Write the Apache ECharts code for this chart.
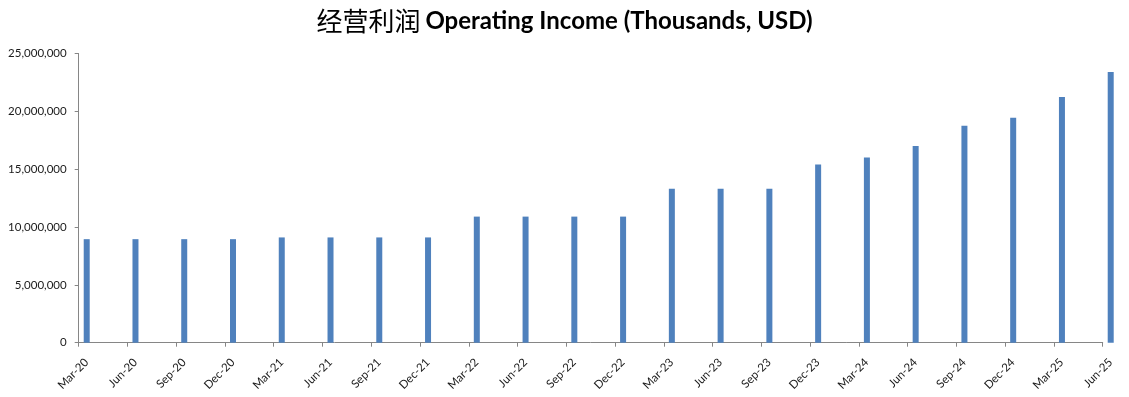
<!DOCTYPE html>
<html>
<head>
<meta charset="utf-8">
<script src="https://cdn.jsdelivr.net/npm/echarts@6/dist/echarts.min.js"></script>
<style>
html, body { margin: 0; padding: 0; background: #fff; }
#main { width: 1129px; height: 397px; }
</style>
</head>
<body>
<div id="main"></div>
<script>
var quarters = ['Mar-20', 'Jun-20', 'Sep-20', 'Dec-20', 'Mar-21', 'Jun-21', 'Sep-21', 'Dec-21',
    'Mar-22', 'Jun-22', 'Sep-22', 'Dec-22', 'Mar-23', 'Jun-23', 'Sep-23', 'Dec-23',
    'Mar-24', 'Jun-24', 'Sep-24', 'Dec-24', 'Mar-25', 'Jun-25'];
var operatingIncome = [8950000, 8950000, 8950000, 8950000, 9100000, 9100000, 9100000, 9100000,
    10900000, 10900000, 10900000, 10900000, 13300000, 13300000, 13300000, 15400000,
    16000000, 17000000, 18750000, 19450000, 21250000, 23400000];
var yTicks = [0, 5000000, 10000000, 15000000, 20000000, 25000000];

var LABEL_FONT = 'Lato, "Open Sans", sans-serif';

window.onload = function () {
    var chart = echarts.init(document.getElementById('main'));
    var option = {
        backgroundColor: '#fff',
        animation: false,
        title: {
            text: '{zh|经营利润} {en|Operating Income (Thousands, USD)}',
            left: 'center',
            top: 3,
            textStyle: {
                rich: {
                    zh: { fontFamily: '"Noto Sans CJK SC"', fontSize: 26, fontWeight: 'normal', color: '#000' },
                    en: { fontFamily: LABEL_FONT, fontSize: 24, fontWeight: 'bold', color: '#000' }
                }
            }
        },
        grid: { left: 78.7, right: 26.3, top: 53.5, bottom: 54.3 },
        xAxis: {
            type: 'category',
            data: quarters,
            boundaryGap: false,
            axisLine: { lineStyle: { color: '#868686', width: 1 } },
            axisTick: { show: true, length: 4, lineStyle: { color: '#868686' } },
            axisLabel: {
                rotate: 45,
                margin: 10,
                verticalAlign: 'top',
                padding: [5, 0, 0, 0],
                interval: 0,
                fontFamily: LABEL_FONT,
                fontSize: 11.5,
                color: '#1a1a1a'
            },
            splitLine: { show: false }
        },
        yAxis: {
            type: 'value',
            min: yTicks[0],
            max: yTicks[yTicks.length - 1],
            interval: yTicks[1] - yTicks[0],
            axisLine: { show: true, lineStyle: { color: '#868686', width: 1 } },
            axisTick: { show: true, length: 4, lineStyle: { color: '#868686' } },
            axisLabel: {
                margin: 12,
                fontFamily: LABEL_FONT,
                fontSize: 11.5,
                color: '#1a1a1a',
                formatter: function (v) { return v.toLocaleString('en-US'); }
            },
            splitLine: { show: false }
        },
        series: [
            {
                // empty spacer so the real bars sit just right of each tick
                name: 'spacer',
                type: 'bar',
                data: [],
                barWidth: 6,
                barGap: '167%'
            },
            {
                name: 'Operating Income',
                type: 'bar',
                data: operatingIncome,
                barWidth: 6,
                barGap: '167%',
                itemStyle: { color: '#4F81BD' }
            }
        ]
    };
    chart.setOption(option);
};
</script>
</body>
</html>
